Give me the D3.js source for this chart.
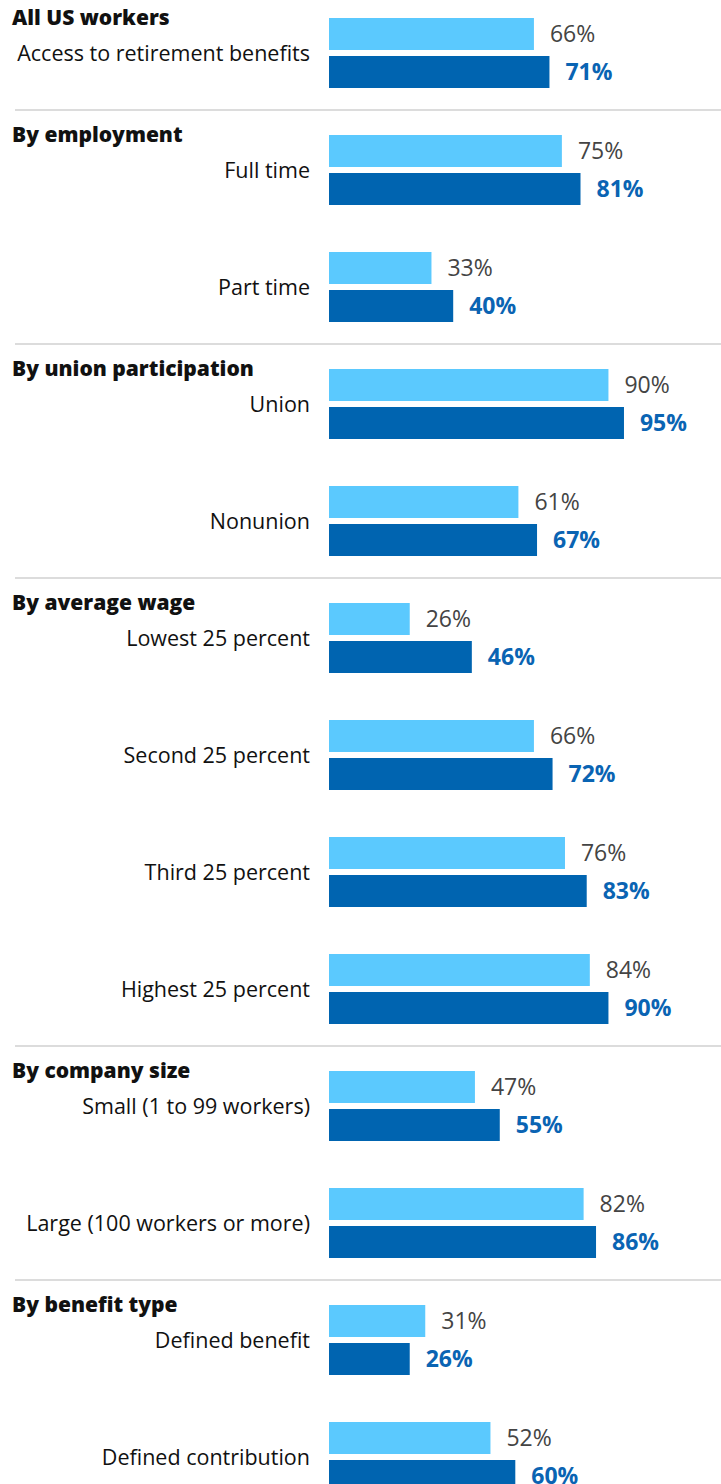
<!DOCTYPE html>
<html>
<head>
<meta charset="utf-8">
<script src="https://cdn.jsdelivr.net/npm/d3@7"></script>
<style>
  html, body { margin: 0; padding: 0; background: #fff; }
  svg { display: block; }
</style>
</head>
<body>
<svg id="chart" width="721" height="1484"></svg>
<script>
// ---- data ----
const groups = ["All US workers", "By employment", "By union participation", "By average wage", "By company size", "By benefit type"];
const categories = [
  "Access to retirement benefits",
  "Full time", "Part time",
  "Union", "Nonunion",
  "Lowest 25 percent", "Second 25 percent", "Third 25 percent", "Highest 25 percent",
  "Small (1 to 99 workers)", "Large (100 workers or more)",
  "Defined benefit", "Defined contribution"
];
const categoryGroup = [0, 1, 1, 2, 2, 3, 3, 3, 3, 4, 4, 5, 5];
const seriesNames = ["earlier", "later"];
const earlierValues = [66, 75, 33, 90, 61, 26, 66, 76, 84, 47, 82, 31, 52];
const laterValues   = [71, 81, 40, 95, 67, 46, 72, 83, 90, 55, 86, 26, 60];

// ---- drawing ----
const svg = d3.select("#chart");
const FONT = "'Open Sans', 'DejaVu Sans', sans-serif";
const colors = { earlier: "#5bc9fe", later: "#0064b0" };
const textColors = { earlier: "#444444", later: "#0a64b3" };

const x = d3.scaleLinear().domain([0, 100]).range([329, 329 + 310.5]);
const y = d3.scaleBand().domain(categories).range([18, 18 + categories.length * 117]).paddingInner(0);
const yInner = d3.scaleBand().domain(seriesNames).range([0, 70]).paddingInner(6 / 38);

const rows = categories.map((c, i) => ({
  cat: c, i, group: categoryGroup[i],
  vals: { earlier: earlierValues[i], later: laterValues[i] }
}));

// separators & group headers
rows.forEach((r, i) => {
  const top = y(r.cat);
  const first = i === 0 || categoryGroup[i - 1] !== r.group;
  if (!first) return;
  if (i > 0) {
    svg.append("line")
      .attr("x1", 15).attr("x2", 721)
      .attr("y1", top - 25).attr("y2", top - 25)
      .attr("stroke", "#dcdcdc").attr("stroke-width", 2);
  }
  svg.append("text")
    .attr("x", 12).attr("y", top + 7)
    .attr("font-family", FONT).attr("font-size", 21).attr("font-weight", 800)
    .attr("fill", "#111")
    .text(groups[r.group]);
});

const rowG = svg.selectAll("g.row").data(rows).join("g")
  .attr("class", "row")
  .attr("transform", d => `translate(0,${y(d.cat)})`);

rowG.append("text")
  .attr("x", 310).attr("y", 35).attr("dy", "0.35em")
  .attr("text-anchor", "end")
  .attr("font-family", FONT).attr("font-size", 21.5)
  .attr("fill", "#111")
  .text(d => d.cat);

seriesNames.forEach(s => {
  rowG.append("rect")
    .attr("x", x(0))
    .attr("y", yInner(s))
    .attr("width", d => x(d.vals[s]) - x(0))
    .attr("height", yInner.bandwidth())
    .attr("fill", colors[s]);
  rowG.append("text")
    .attr("x", d => x(d.vals[s]) + 16)
    .attr("y", yInner(s) + yInner.bandwidth() / 2)
    .attr("dy", "0.36em")
    .attr("font-family", FONT).attr("font-size", 23)
    .attr("font-weight", s === "later" ? 700 : 400)
    .attr("fill", textColors[s])
    .text(d => d.vals[s] + "%");
});
</script>
</body>
</html>
